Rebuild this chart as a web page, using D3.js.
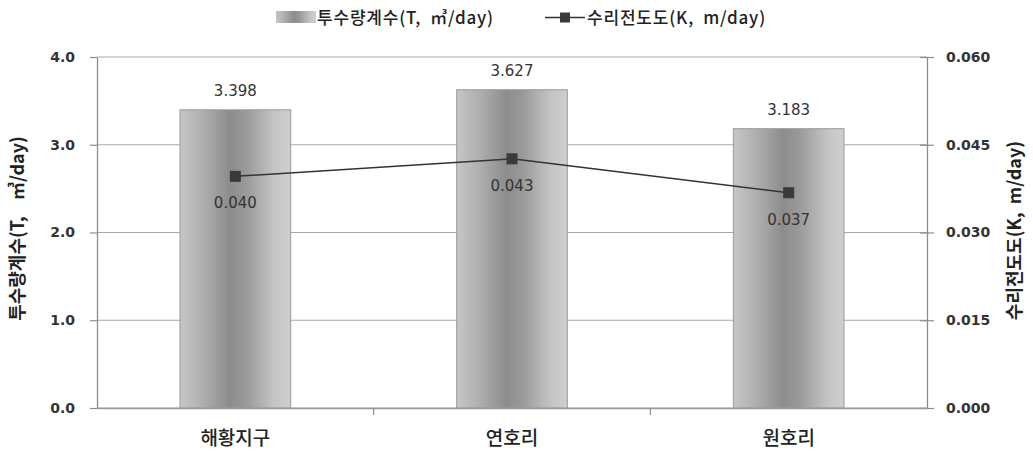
<!DOCTYPE html>
<html><head><meta charset="utf-8">
<script src="https://cdn.jsdelivr.net/npm/d3@7"></script>
<style>body{margin:0;background:#fff} text{white-space:pre}</style>
</head><body><svg id="c" width="1033" height="455"></svg>
<script>
const categories = ["해황지구", "연호리", "원호리"];
const transmissivity = [3.398, 3.627, 3.183];
const conductivity = [0.0396, 0.0426, 0.0368];
const leftTicks = [0, 1, 2, 3, 4];
const rightTicks = [0, 0.015, 0.030, 0.045, 0.060];
const seriesNames = ["투수량계수(T,  ㎥/day)", "수리전도도(K,  m/day)"];
const leftTitle = "투수량계수(T,    ㎥/day)";
const rightTitle = "수리전도도(K,  m/day)";

const svg = d3.select("#c");
const m = {l: 97, r: 927, t: 57, b: 408};
const x = d3.scaleBand().domain(categories).range([m.l, m.r]).paddingInner(0).paddingOuter(0);
const yL = d3.scaleLinear().domain([0, 4]).range([m.b, m.t]);
const yR = d3.scaleLinear().domain([0, 0.06]).range([m.b, m.t]);
const numFont = "'DejaVu Sans', Verdana, sans-serif";
const kFont = "'Noto Sans CJK KR', sans-serif";

const defs = svg.append("defs");
const g = defs.append("linearGradient").attr("id", "bg").attr("x1", "0").attr("x2", "1").attr("y1", "0").attr("y2", "0");
[[0, "#c6c6c6"], [0.2, "#b0b0b0"], [0.45, "#8c8c8c"], [0.6, "#9a9a9a"], [0.85, "#c4c4c4"], [1, "#cfcfcf"]]
  .forEach(([o, c]) => g.append("stop").attr("offset", o).attr("stop-color", c));

// gridlines
svg.append("g").selectAll("line").data(leftTicks).join("line")
  .attr("x1", m.l).attr("x2", m.r).attr("y1", d => yL(d)).attr("y2", d => yL(d))
  .attr("stroke", "#a8a8a8").attr("stroke-width", 1.2);

// bars
const bw = x.bandwidth() * 0.4;
svg.append("g").selectAll("rect").data(transmissivity).join("rect")
  .attr("x", (d, i) => x(categories[i]) + x.bandwidth() / 2 - bw / 2)
  .attr("width", bw)
  .attr("y", d => yL(d)).attr("height", d => yL(0) - yL(d))
  .attr("fill", "url(#bg)").attr("stroke", "#9a9a9a").attr("stroke-width", 1);

// left axis
const la = svg.append("g").attr("transform", `translate(${m.l},0)`)
  .call(d3.axisLeft(yL).tickValues(leftTicks).tickFormat(d3.format(".1f")).tickSize(7).tickSizeOuter(0));
la.select(".domain").attr("stroke", "#8c8c8c").attr("stroke-width", 1.3);
la.selectAll(".tick line").attr("stroke", "#8c8c8c").attr("stroke-width", 1.2);
la.selectAll("text").attr("font-family", numFont).attr("font-size", 14).attr("font-weight", "bold").attr("fill", "#333").attr("x", -22);

// right axis
const ra = svg.append("g").attr("transform", `translate(${m.r},0)`)
  .call(d3.axisRight(yR).tickValues(rightTicks).tickFormat(d3.format(".3f")).tickSize(7).tickSizeOuter(0));
ra.select(".domain").attr("stroke", "#8c8c8c").attr("stroke-width", 1.3);
ra.selectAll(".tick line").attr("stroke", "#8c8c8c").attr("stroke-width", 1.2).attr("x1", -7).attr("x2", 7);
ra.selectAll("text").attr("font-family", numFont).attr("font-size", 14).attr("font-weight", "bold").attr("fill", "#333").attr("x", 19);

// bottom axis
const ba = svg.append("g").attr("transform", `translate(0,${m.b})`)
  .call(d3.axisBottom(x).tickSize(0).tickSizeOuter(0));
ba.select(".domain").attr("stroke", "#9a9a9a").attr("stroke-width", 1.3);
ba.selectAll("text").attr("font-family", kFont).attr("font-size", 19).attr("font-weight", 500).attr("fill", "#222").attr("y", 24).attr("dy", "0.71em");
svg.append("g").selectAll("line").data(categories.slice(1)).join("line")
  .attr("x1", d => x(d)).attr("x2", d => x(d)).attr("y1", m.b).attr("y2", m.b + 7)
  .attr("stroke", "#8c8c8c").attr("stroke-width", 1.2);

// bar labels
svg.append("g").selectAll("text").data(transmissivity).join("text")
  .attr("x", (d, i) => x(categories[i]) + x.bandwidth() / 2)
  .attr("y", d => yL(d) - 14)
  .attr("text-anchor", "middle").attr("font-family", numFont).attr("font-size", 15).attr("fill", "#333")
  .text(d => d3.format(".3f")(d));

// line
const cx = (d, i) => x(categories[i]) + x.bandwidth() / 2;
svg.append("path").datum(conductivity)
  .attr("d", d3.line().x(cx).y(d => yR(d)))
  .attr("fill", "none").attr("stroke", "#333").attr("stroke-width", 1.5);
svg.append("g").selectAll("rect").data(conductivity).join("rect")
  .attr("x", (d, i) => cx(d, i) - 5.5).attr("y", d => yR(d) - 5.5)
  .attr("width", 11).attr("height", 11).attr("fill", "#3a3a3a");
svg.append("g").selectAll("text").data(conductivity).join("text")
  .attr("x", cx).attr("y", d => yR(d) + 32)
  .attr("text-anchor", "middle").attr("font-family", numFont).attr("font-size", 15).attr("fill", "#333")
  .text(d => d3.format(".3f")(d));

// axis titles
svg.append("text").attr("transform", `translate(24,${(m.t + m.b) / 2 - 4}) rotate(-90)`)
  .attr("text-anchor", "middle").attr("font-family", kFont).attr("font-size", 18).attr("font-weight", "bold").attr("fill", "#222")
  .text(leftTitle);
svg.append("text").attr("transform", `translate(1021,${(m.t + m.b) / 2 - 2}) rotate(-90)`)
  .attr("text-anchor", "middle").attr("font-family", kFont).attr("font-size", 18).attr("font-weight", "bold").attr("fill", "#222")
  .text(rightTitle);

// legend
const lg = svg.append("g");
lg.append("rect").attr("x", 276).attr("y", 11).attr("width", 40).attr("height", 12).attr("fill", "url(#bg)");
lg.append("text").attr("x", 317).attr("y", 24).attr("font-family", kFont).attr("font-size", 17).attr("font-weight", 500).attr("letter-spacing", 0.8).attr("fill", "#222").text(seriesNames[0]);
lg.append("line").attr("x1", 545).attr("x2", 585).attr("y1", 17.5).attr("y2", 17.5).attr("stroke", "#333").attr("stroke-width", 1.5);
lg.append("rect").attr("x", 560).attr("y", 12.5).attr("width", 10).attr("height", 10).attr("fill", "#3a3a3a");
lg.append("text").attr("x", 587).attr("y", 24).attr("font-family", kFont).attr("font-size", 17).attr("font-weight", 500).attr("letter-spacing", 0.8).attr("fill", "#222").text(seriesNames[1]);
</script></body></html>
